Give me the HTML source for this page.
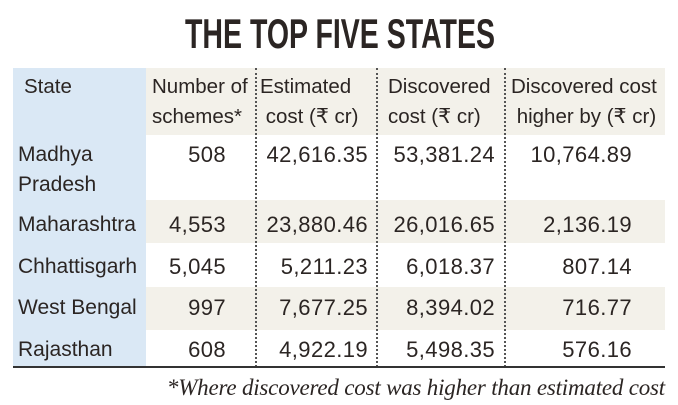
<!DOCTYPE html>
<html><head><meta charset="utf-8"><style>
body{margin:0;width:678px;height:405px;background:#fff;position:relative;overflow:hidden;font-family:"Liberation Sans","DejaVu Sans",sans-serif;color:#2b2523}
.a{position:absolute;white-space:nowrap;font-size:21px;line-height:30px}
.r{text-align:right;font-size:22px;letter-spacing:0.4px}
.h{font-size:20.5px;line-height:30px}
.bg{position:absolute}
.dot{position:absolute;top:68px;height:299px;border-left:2px dotted #555;width:0}
</style></head><body>
<svg style="position:absolute;left:0;top:0" width="678" height="60"><text x="185" y="48" textLength="310" lengthAdjust="spacingAndGlyphs" font-family="Liberation Sans Narrow, Liberation Sans, sans-serif" font-weight="bold" font-size="42" fill="#2b2523">THE TOP FIVE STATES</text></svg>
<div class="bg" style="left:146px;top:68px;width:519px;height:67px;background:#f3f1ea"></div>
<div class="bg" style="left:13px;top:68px;width:133px;height:299px;background:#dae8f5"></div>
<div class="bg" style="left:146px;top:200px;width:519px;height:43px;background:#f3f1ea"></div>
<div class="bg" style="left:146px;top:287px;width:519px;height:43px;background:#f3f1ea"></div>
<div class="dot" style="left:255px"></div>
<div class="dot" style="left:376px"></div>
<div class="dot" style="left:504px"></div>
<div class="bg" style="left:13px;top:366px;width:652px;height:2px;background:#333"></div>

<div class="a h" style="left:24px;top:72px">State</div>
<div class="a h" style="left:152px;top:72px">Number of<br>schemes*</div>
<div class="a h" style="left:260px;top:72px">Estimated<br>&nbsp;cost (₹ cr)</div>
<div class="a h" style="left:388px;top:72px">Discovered<br>cost (₹ cr)</div>
<div class="a h" style="left:511px;top:72px">Discovered cost<br>&nbsp;higher by (₹ cr)</div>

<div id="rows"></div>
<div class="a" style="right:13px;top:373px;font-family:'Liberation Serif',serif;font-style:italic;font-size:23px;letter-spacing:-0.2px">*Where discovered cost was higher than estimated cost</div>
<script>
const states=["Madhya<br>Pradesh","Maharashtra","Chhattisgarh","West Bengal","Rajasthan"];
const schemes=["508","4,553","5,045","997","608"];
const estimated=["42,616.35","23,880.46","5,211.23","7,677.25","4,922.19"];
const discovered=["53,381.24","26,016.65","6,018.37","8,394.02","5,498.35"];
const higher=["10,764.89","2,136.19","807.14","716.77","576.16"];
const tops=[140,210,252,293,335];
const cols=[[states,18,null],[schemes,null,452],[estimated,null,310],[discovered,null,183],[higher,null,46]];
const names=["state","schemes","estimated","discovered","higher"];
const root=document.getElementById('rows');
states.forEach((s,i)=>{cols.forEach((c,j)=>{
 const el=document.createElement('div');
 el.className='a'+(c[2]!==null?' r':'');
 el.style.top=tops[i]+'px';
 if(c[1]!==null)el.style.left=c[1]+'px';else el.style.right=c[2]+'px';
 el.innerHTML=c[0][i];
 
 
 root.appendChild(el);});});
</script>
</body></html>
